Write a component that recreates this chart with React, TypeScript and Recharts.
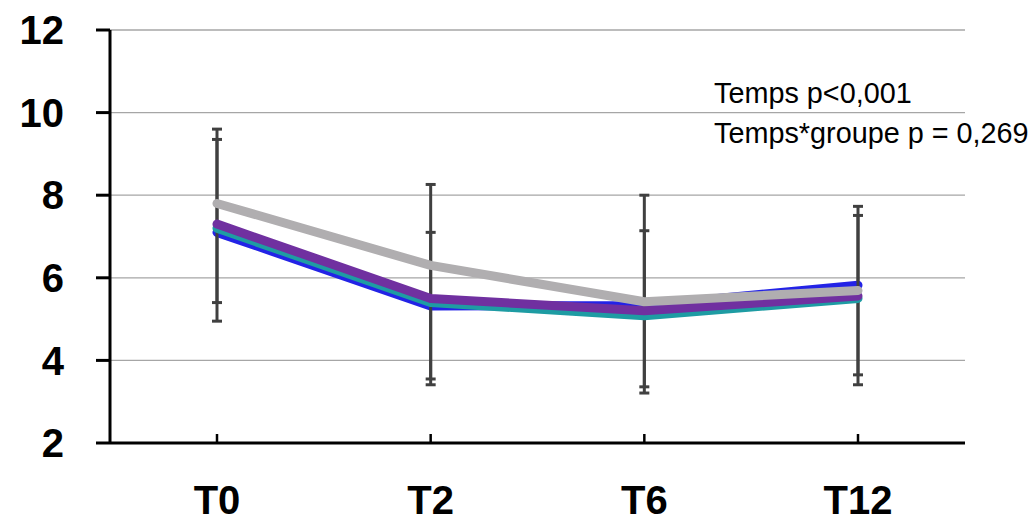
import React from 'react';
import { LineChart, Line, XAxis, YAxis, CartesianGrid, ErrorBar } from 'recharts';

const categories = ['T0', 'T2', 'T6', 'T12'];
const blueValues = [7.1, 5.32, 5.33, 5.82];
const tealValues = [7.2, 5.4, 5.08, 5.5];
const purpleValues = [7.3, 5.5, 5.2, 5.56];
const grayValues = [7.8, 6.3, 5.42, 5.69];
const upperOuter = [9.6, 8.26, 8.0, 7.73];
const upperInner = [9.35, 7.1, 7.14, 7.51];
const lowerInner = [5.4, 3.55, 3.36, 3.65];
const lowerOuter = [4.95, 3.41, 3.21, 3.41];
const yTicks = [2, 4, 6, 8, 10, 12];
const annotations = ['Temps p<0,001', 'Temps*groupe p = 0,269'];

const data = categories.map((cat, i) => ({
  cat,
  blue: blueValues[i],
  teal: tealValues[i],
  purple: purpleValues[i],
  gray: grayValues[i],
  blueErr: [blueValues[i] - lowerOuter[i], upperOuter[i] - blueValues[i]],
  tealErr: [tealValues[i] - lowerInner[i], upperInner[i] - tealValues[i]],
}));

const FONT = '"Liberation Sans", Arial, sans-serif';

export default function App() {
  return (
    <div style={{ position: 'absolute', left: 0, top: 0, width: 1036, height: 522, background: '#fff' }}>
      <LineChart
        width={1036}
        height={522}
        data={data}
        margin={{ top: 30, right: 71, left: 0, bottom: 0 }}
      >
        <CartesianGrid horizontal vertical={false} stroke="#A6A6A6" strokeWidth={1.3} />
        <XAxis
          dataKey="cat"
          height={79}
          padding={{ left: 107, right: 107 }}
          axisLine={{ stroke: '#000', strokeWidth: 3 }}
          tickLine={{ stroke: '#000', strokeWidth: 2.5 }}
          tickSize={-9}
          tickMargin={52}
          tick={{ fill: '#000', fontSize: 40, fontWeight: 700, fontFamily: FONT }}
          interval={0}
        />
        <YAxis
          width={110}
          domain={[2, 12]}
          ticks={yTicks}
          type="number"
          allowDataOverflow
          axisLine={{ stroke: '#000', strokeWidth: 3 }}
          tickLine={{ stroke: '#000', strokeWidth: 3 }}
          tickSize={14}
          tickMargin={32}
          tick={{ fill: '#000', fontSize: 40, fontWeight: 700, fontFamily: FONT }}
        />
        <Line
          dataKey="blue"
          stroke="#2323E6"
          strokeWidth={9}
          dot={false}
          strokeLinecap="round"
          strokeLinejoin="round"
          isAnimationActive={false}
        >
          <ErrorBar dataKey="blueErr" direction="y" width={5} stroke="#404040" strokeWidth={3} />
        </Line>
        <Line
          dataKey="teal"
          stroke="#1E9CA3"
          strokeWidth={9}
          dot={false}
          strokeLinecap="round"
          strokeLinejoin="round"
          isAnimationActive={false}
        >
          <ErrorBar dataKey="tealErr" direction="y" width={5} stroke="#404040" strokeWidth={3} />
        </Line>
        <Line
          dataKey="purple"
          stroke="#7030A0"
          strokeWidth={9}
          dot={false}
          strokeLinecap="round"
          strokeLinejoin="round"
          isAnimationActive={false}
        />
        <Line
          dataKey="gray"
          stroke="#B0AEB0"
          strokeWidth={9}
          dot={false}
          strokeLinecap="round"
          strokeLinejoin="round"
          isAnimationActive={false}
        />
      </LineChart>
      <svg
        width={1036}
        height={522}
        style={{ position: 'absolute', left: 0, top: 0, pointerEvents: 'none' }}
      >
        <text x={714} y={103} fontFamily={FONT} fontSize={28.8} fill="#000">{annotations[0]}</text>
        <text x={714} y={143} fontFamily={FONT} fontSize={28.8} fill="#000">{annotations[1]}</text>
      </svg>
    </div>
  );
}
